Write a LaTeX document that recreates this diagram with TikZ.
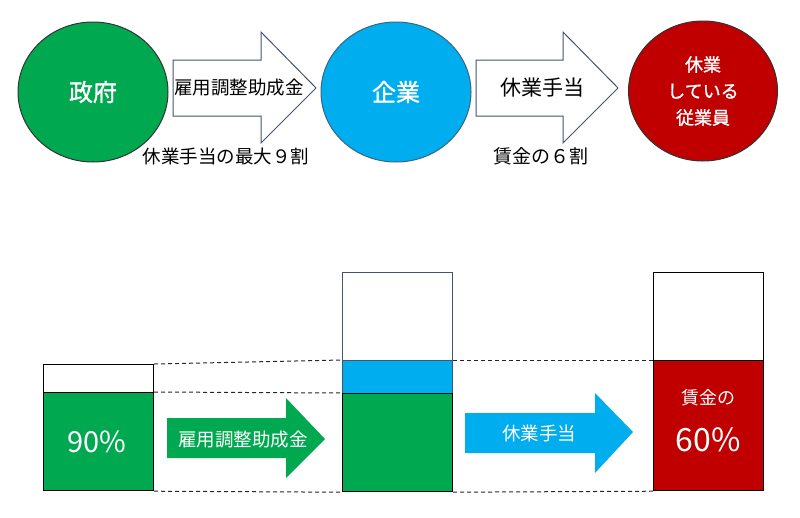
\documentclass[tikz,border=0pt]{standalone}
\usepackage{fontspec}
\setmainfont{Noto Sans CJK JP}
\newfontfamily\medfont[FakeBold=1.2]{Noto Sans CJK JP}
\usetikzlibrary{shapes.geometric}
\definecolor{cgreen}{HTML}{00A94F}
\definecolor{cblue}{HTML}{00ADEF}
\definecolor{cred}{HTML}{C00000}
\definecolor{cline}{HTML}{44546A}
\begin{document}
\begin{tikzpicture}[x=1pt,y=-1pt,
  circ/.style={ellipse, draw, line width=1pt, text=white, font=\fontsize{24}{26}\medfont, align=center},
  outarrow/.style={draw=cline, fill=white, line width=1pt, line join=miter},
  lbl/.style={font=\fontsize{18.5}{20}\selectfont, inner sep=0pt},
  bar/.style={draw=black, line width=1.2pt, minimum width=110pt, inner sep=0pt, anchor=north west},
  pct/.style={text=white, font=\fontsize{29}{31}\selectfont},
  dashline/.style={dash pattern=on 4pt off 3pt, line width=1pt, black!85},
  arrtxt/.style={text=white, font=\fontsize{18.5}{20}\selectfont, inner sep=0pt}]
\useasboundingbox (0,0) rectangle (800,517);
% top circles
\node[circ, fill=cgreen, draw=black!80, minimum width=150pt, minimum height=140pt] (gov) at (93,92) {政府};
\node[circ, fill=cblue, draw=cline!80!cblue, minimum width=150pt, minimum height=140pt] (corp) at (396,92) {企業};
\node[circ, fill=cred, draw=black!80, minimum width=149pt, minimum height=140pt, font=\fontsize{18}{26.5}\medfont] (emp) at (703,91) {休業\\している\\従業員};
% outline arrows
\draw[outarrow] (173,60) -- (261,60) -- (261,32) -- (316,88) -- (261,143) -- (261,116) -- (173,116) -- cycle;
\node[lbl] (a1t) at (239,88) {雇用調整助成金};
\node[lbl] (a1l) at (226,156) {休業手当の最大９割};
\draw[outarrow] (476,60) -- (563,60) -- (563,32) -- (618,88) -- (563,143) -- (563,116) -- (476,116) -- cycle;
\node[lbl, font=\fontsize{21}{23}\selectfont] (a2t) at (542,88) {休業手当};
\node[lbl, font=\fontsize{19}{21}\selectfont] (a2l) at (541,156) {賃金の６割};
% bottom bars
\node[bar, fill=white, minimum height=28pt] (w1) at (43,364) {};
\node[bar, fill=cgreen, minimum height=98pt] (g1) at (43,392) {};
\node[pct] at (97,442) {90\%};
\node[bar, draw=cline, fill=white, minimum height=88pt] (w2) at (342,272) {};
\node[bar, fill=cblue, draw=cline, minimum height=33pt] (b2) at (342,360) {};
\node[bar, fill=cgreen, minimum height=98pt] (g2) at (342,393) {};
\node[bar, fill=white, minimum height=88pt] (w3) at (653,272) {};
\node[bar, fill=cred, minimum height=130pt] (r3) at (653,360) {};
\node[text=white, font=\fontsize{18}{20}\selectfont] (r3a) at (708,398) {賃金の};
\node[pct, font=\fontsize{32}{34}\selectfont] (r3b) at (708,440) {60\%};
% dashed connectors
\draw[dashline] (w1.north east) -- (b2.north west);
\draw[dashline] (g1.north east) -- (g2.north west);
\draw[dashline] (g1.south east) -- (g2.south west);
\draw[dashline] (b2.north east) -- (r3.north west);
\draw[dashline] (g2.south east) -- (r3.south west);
% filled arrows
\fill[cgreen] (167,418) -- (286,418) -- (286,398) -- (325,439) -- (286,478) -- (286,458) -- (167,458) -- cycle;
\node[arrtxt] (ga) at (243,440) {雇用調整助成金};
\fill[cblue] (465,413) -- (595,413) -- (595,393) -- (633,432) -- (595,473) -- (595,453) -- (465,453) -- cycle;
\node[arrtxt] (ba) at (539,433) {休業手当};
\end{tikzpicture}
\end{document}
